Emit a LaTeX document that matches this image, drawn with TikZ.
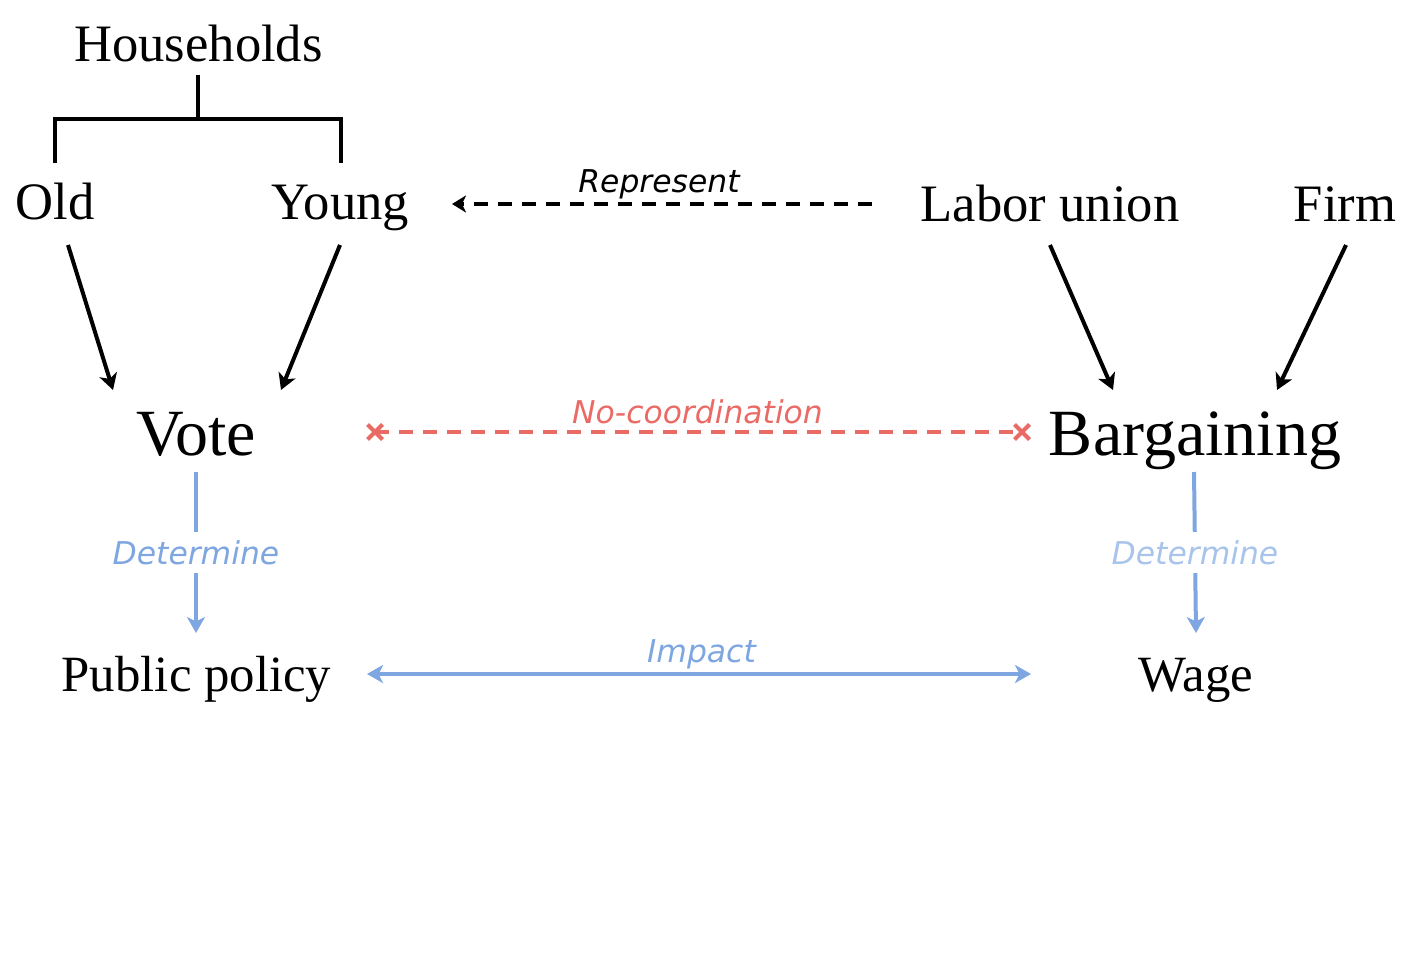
\documentclass[tikz,border=0pt]{standalone}
\usepackage{fontspec}
\setmainfont{Liberation Serif}
\newfontfamily\labfont{DejaVu Sans}
\usetikzlibrary{arrows.meta,shapes.misc}
\definecolor{bluec}{HTML}{7EA6E0}
\definecolor{lightbluec}{HTML}{A9C4EB}
\definecolor{redc}{HTML}{EA6B66}
\begin{document}
\begin{tikzpicture}[x=0.5pt,y=-0.5pt,
  txt/.style={anchor=base,inner sep=0pt},
  big/.style={txt,font=\fontsize{33}{36}\selectfont},
  mid/.style={txt,font=\fontsize{26.3}{30}\selectfont},
  low/.style={txt,font=\fontsize{25.4}{30}\selectfont},
  labf/.style={font=\labfont\itshape\fontsize{15.7}{18}\selectfont},
  lab/.style={labf,inner sep=0pt,anchor=base},
  tip/.style={-{Stealth[length=8pt,width=9pt,inset=2.2pt]}},
  conn/.style={line width=2pt,tip},
  blueconn/.style={line width=2pt,draw=bluec,-{Stealth[length=8pt,width=9pt,inset=2.2pt,fill=bluec]}},
  dashpat/.style={dash pattern=on 7pt off 5pt},
  xmark/.style={cross out,draw=redc,line width=2pt,minimum size=5.5pt,inner sep=0pt}
]
\useasboundingbox (0,0) rectangle (1411,957);

% texts
\node[mid] (hh) at (198.5,62) {Households};
\node[mid] (old) at (55,220) {Old};
\node[mid] (young) at (340,220) {Young};
\node[mid] (labor) at (1050,221) {Labor union};
\node[mid] (firm) at (1345,221) {Firm};
\node[big] (vote) at (196,455) {Vote};
\node[big] (barg) at (1195,455) {Bargaining};
\node[low] (pp) at (196.5,691) {Public policy};
\node[low] (wage) at (1196,691) {Wage};

% bracket
\coordinate (hb1) at (198,75);
\coordinate (hb2) at (198,119);
\coordinate (bl1) at (55,163);
\coordinate (bl2) at (55,119);
\coordinate (br2) at (341,119);
\coordinate (br1) at (341,163);
\draw[line width=2pt] (hb1) -- (hb2);
\draw[line width=2pt,line join=miter] (bl1) -- (bl2) -- (br2) -- (br1);

% black arrows
\coordinate (oldS) at (68,245);
\coordinate (voteL) at (113,390);
\coordinate (youngS) at (340,245);
\coordinate (voteR) at (281,390);
\coordinate (laborS) at (1050,245);
\coordinate (bargL) at (1113,390);
\coordinate (firmS) at (1346,245);
\coordinate (bargR) at (1277,390);
\draw[conn] (oldS) -- (voteL);
\draw[conn] (youngS) -- (voteR);
\draw[conn] (laborS) -- (bargL);
\draw[conn] (firmS) -- (bargR);

% represent
\coordinate (repS) at (872,204);
\coordinate (repE) at (452,204);
\draw[line width=2pt,dashpat,-{Stealth[length=7pt,width=8.5pt,inset=2pt]}] (repS) -- (repE);
\node[lab] (replab) at (659,192) {Represent};

% no-coordination
\node[xmark] (xl) at (375,432) {};
\node[xmark] (xr) at (1022,432) {};
\draw[redc,line width=2pt,dashpat] (xl.center) -- (xr.center);
\node[lab,text=redc] (nclab) at (697.5,423) {No-coordination};

% determine
\coordinate (vD) at (196,472);
\coordinate (ppT) at (196,633);
\draw[blueconn] (vD) -- (ppT) node[midway,fill=white,inner xsep=2pt,inner ysep=4pt,labf,text=bluec] (det1) {Determine};
\coordinate (bD) at (1194,472);
\coordinate (wT) at (1196,633);
\draw[blueconn] (bD) -- (wT) node[midway,fill=white,inner xsep=2pt,inner ysep=4pt,labf,text=lightbluec] (det2) {Determine};

% impact
\coordinate (impL) at (367,674);
\coordinate (impR) at (1031,674);
\draw[line width=2pt,draw=bluec,{Stealth[length=8pt,width=9pt,inset=2.2pt,fill=bluec]}-{Stealth[length=8pt,width=9pt,inset=2.2pt,fill=bluec]}] (impL) -- (impR);
\node[lab,text=bluec] (implab) at (701.5,662) {Impact};
\end{tikzpicture}
\end{document}
